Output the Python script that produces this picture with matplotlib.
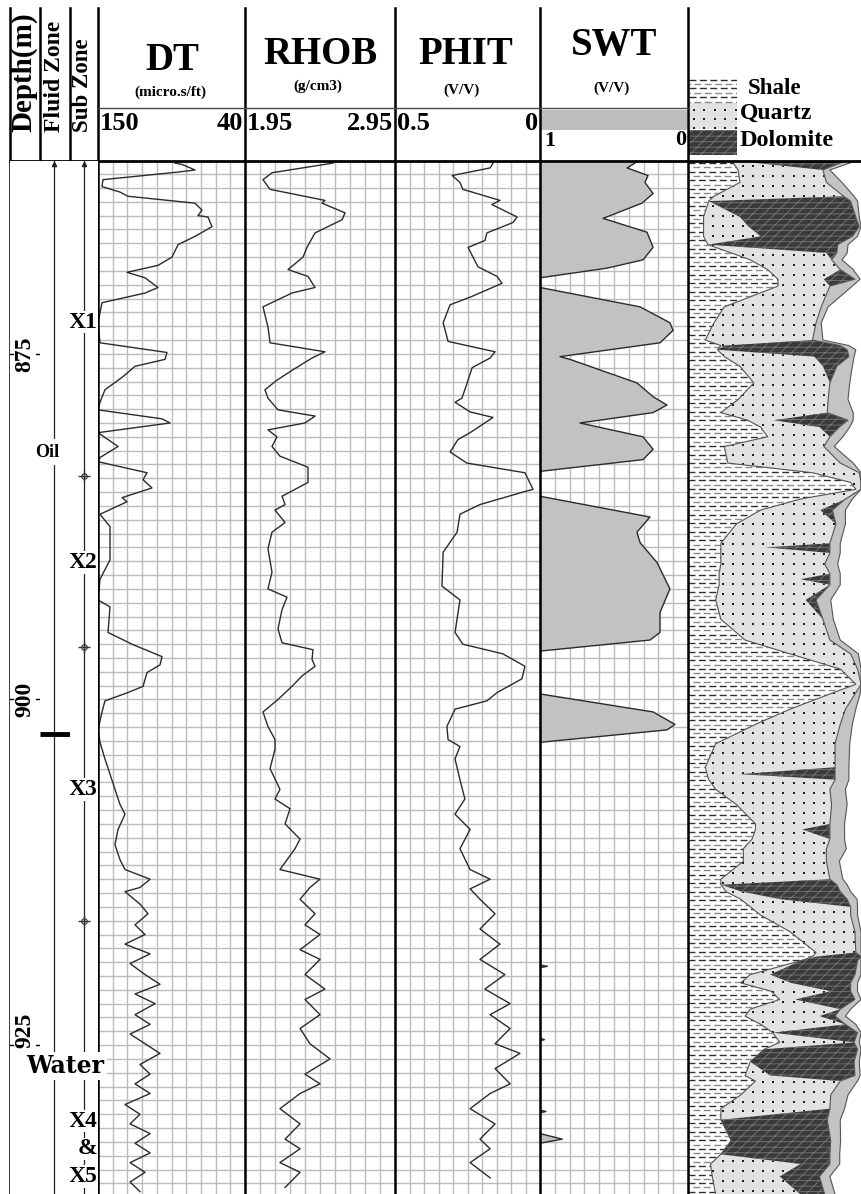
import numpy as np
import matplotlib
matplotlib.use('Agg')
import matplotlib.pyplot as plt
from matplotlib.lines import Line2D
from matplotlib.patches import Rectangle

depth_labels = [875, 900, 925]
depth_label_pos = [875, 900, 923.9]
zone_names = ['X1', 'X2', 'X3', 'X4', '&', 'X5']
zone_label_depth = [872.7, 890.1, 906.5, 930.5, 932.5, 934.5]
zone_tops = [883.8, 896.2, 916.0]
owc_depth = 902.5
oil_label_depth = 882.1
water_label_depth = 926.5

dt_depth = [861.2, 861.3, 861.7, 861.85, 862.4, 862.9, 863.3, 863.6, 864.1, 864.6,
            865.0, 865.1, 865.8, 866.5, 867.1, 868.0, 868.6, 869.1, 869.5, 870.2,
            870.6, 871.3, 872.75, 874.2, 874.9, 875.4, 875.9, 876.7, 877.6, 878.5,
            879.05, 879.7, 880.0, 880.7, 881.7, 882.5, 882.8, 883.6, 884.1, 884.7,
            885.4, 885.7, 886.6, 887.5, 889.9, 891.3, 892.8, 893.3, 895.15, 896.0,
            896.9, 897.5, 898.05, 899.05, 899.5, 900.1, 900.9, 902.2, 903.1, 904.3,
            905.4, 906.5, 907.6, 908.3, 909.4, 910.5, 911.6, 912.3, 913.0, 913.6,
            913.9, 914.8, 915.5, 916.3, 917.0, 917.7, 918.4, 919.1, 919.9, 920.6,
            921.3, 922.0, 922.8, 923.5, 924.2, 924.9, 925.6, 926.4, 927.1, 927.8,
            928.5, 929.3, 930.0, 930.7, 931.4, 932.1, 932.8, 933.5, 934.2, 934.9, 935.6]
dt = [92.4, 87.1, 77.4, 90.1, 146.3, 147.0, 133.5, 127.6, 77.4, 72.2,
      75.2, 67.7, 64.7, 77.4, 90.1, 94.6, 105.1, 128.3, 114.8, 105.1,
      114.8, 147.0, 150.0, 148.5, 98.4, 99.9, 122.3, 132.0, 144.8, 148.5,
      150.0, 102.1, 96.1, 150.0, 135.0, 148.5, 150.0, 113.3, 116.3, 109.6,
      132.0, 128.3, 148.5, 141.0, 141.0, 148.5, 150.0, 141.0, 142.5, 124.6,
      102.1, 103.6, 113.3, 116.3, 127.6, 144.8, 147.0, 150.0, 148.5, 144.8,
      141.0, 137.3, 133.5, 129.8, 135.0, 137.3, 133.5, 129.8, 111.0, 118.6,
      129.8, 118.6, 112.6, 122.3, 114.8, 129.8, 111.0, 126.0, 114.8, 103.6,
      122.3, 107.3, 122.3, 111.0, 126.0, 114.8, 103.6, 118.6, 111.0, 122.3,
      111.0, 129.8, 118.6, 126.0, 111.0, 122.3, 111.0, 126.0, 114.8, 126.0, 118.6]

rhob_depth = [861.2, 861.9, 862.4, 863.1, 863.9, 864.1, 864.8, 865.3, 866.25, 867.3,
              868.0, 868.9, 869.4, 870.2, 870.6, 871.6, 873.05, 874.2, 874.85, 875.3,
              876.2, 876.9, 877.6, 878.2, 879.05, 879.5, 880.0, 880.5, 881.0, 881.7,
              882.4, 883.2, 884.3, 885.3, 885.9, 886.3, 887.2, 887.9, 889.1, 890.8,
              892.0, 892.6, 893.5, 894.9, 895.9, 896.4, 897.1, 897.6, 898.3, 899.05,
              900.0, 900.9, 901.95, 902.9, 903.6, 905.0, 906.5, 907.2, 907.9, 909.0,
              910.1, 910.8, 912.3, 913.0, 913.6, 914.45, 915.5, 916.3, 917.0, 918.1,
              918.8, 919.9, 920.95, 921.7, 922.8, 923.8, 924.9, 926.0, 927.1, 927.8,
              928.5, 929.6, 930.7, 931.8, 932.5, 933.5, 934.2, 935.3]
rhob = [2.537, 2.13, 2.07, 2.117, 2.483, 2.463, 2.617, 2.597, 2.417, 2.363,
        2.337, 2.237, 2.37, 2.417, 2.263, 2.07, 2.103, 2.117, 2.483, 2.397,
        2.263, 2.163, 2.083, 2.103, 2.17, 2.417, 2.35, 2.103, 2.163, 2.13,
        2.183, 2.37, 2.37, 2.197, 2.217, 2.15, 2.217, 2.13, 2.103, 2.13,
        2.103, 2.23, 2.197, 2.17, 2.197, 2.403, 2.397, 2.417, 2.33, 2.263,
        2.17, 2.07, 2.103, 2.15, 2.15, 2.117, 2.183, 2.15, 2.25, 2.217,
        2.317, 2.283, 2.183, 2.45, 2.383, 2.317, 2.417, 2.35, 2.45, 2.317,
        2.45, 2.35, 2.483, 2.35, 2.45, 2.317, 2.383, 2.517, 2.35, 2.45,
        2.317, 2.183, 2.317, 2.217, 2.317, 2.183, 2.317, 2.217]

phit_depth = [861.2, 861.55, 862.1, 862.6, 863.1, 863.9, 864.2, 865.1, 865.5, 866.25,
              866.8, 867.3, 868.7, 869.4, 869.9, 870.9, 871.45, 872.75, 874.1, 874.85,
              875.3, 876.0, 876.9, 878.2, 878.5, 879.2, 879.6, 880.7, 881.2, 882.1,
              882.9, 883.6, 884.8, 885.0, 885.9, 886.6, 887.9, 889.35, 891.8, 892.8,
              895.15, 896.0, 896.7, 897.6, 898.5, 899.5, 900.1, 900.7, 901.95, 902.9,
              903.4, 904.3, 905.8, 907.2, 908.3, 909.4, 910.8, 912.3, 913.0, 913.7,
              914.45, 915.5, 916.6, 917.7, 918.8, 919.9, 920.95, 922.0, 922.8, 923.8,
              924.9, 925.6, 926.7, 927.8, 928.5, 929.6, 930.7, 931.8, 932.5, 933.5, 934.6]
phit = [0.162, 0.172, 0.303, 0.276, 0.266, 0.138, 0.166, 0.079, 0.093, 0.183,
        0.19, 0.248, 0.214, 0.148, 0.131, 0.241, 0.31, 0.334, 0.317, 0.155,
        0.172, 0.234, 0.248, 0.269, 0.293, 0.241, 0.162, 0.241, 0.283, 0.31,
        0.252, 0.052, 0.024, 0.059, 0.207, 0.276, 0.286, 0.334, 0.338, 0.276,
        0.293, 0.266, 0.128, 0.052, 0.062, 0.148, 0.183, 0.293, 0.321, 0.317,
        0.276, 0.293, 0.276, 0.259, 0.293, 0.241, 0.276, 0.241, 0.172, 0.241,
        0.207, 0.155, 0.207, 0.138, 0.207, 0.121, 0.19, 0.103, 0.172, 0.103,
        0.155, 0.069, 0.155, 0.103, 0.172, 0.241, 0.155, 0.207, 0.172, 0.241, 0.172]

swt_depth = [861.2, 861.55, 862.1, 862.6, 863.4, 864.1, 865.2, 866.2, 867.3, 868.2,
             868.8, 869.5, 870.2, 871.6, 872.75, 873.3, 874.2, 875.2, 875.4, 877.1,
             878.1, 878.7, 879.25, 880.0, 881.0, 881.9, 882.65, 883.5, 885.3, 886.8,
             887.9, 888.65, 890.1, 892.0, 893.7, 895.15, 895.7, 896.5, 899.6, 900.9,
             901.8, 902.2, 903.1, 919.2, 919.3, 919.4, 924.5, 924.6, 924.7, 929.7,
             929.8, 929.9, 931.4, 931.8, 932.1, 935.7]
swt = [0.358, 0.412, 0.27, 0.291, 0.236, 0.311, 0.574, 0.277, 0.236, 0.304,
       0.547, 1.0, 1.0, 0.324, 0.122, 0.101, 0.189, 0.865, 0.797, 0.345,
       0.236, 0.142, 0.236, 0.73, 0.304, 0.236, 0.304, 1.0, 1.0, 0.257,
       0.345, 0.324, 0.209, 0.122, 0.189, 0.189, 0.257, 1.0, 1.0, 0.236,
       0.088, 0.142, 1.0, 1.0, 0.95, 1.0, 1.0, 0.97, 1.0, 1.0,
       0.96, 1.0, 1.0, 0.85, 1.0, 1.0]

lith_depth = [861.0, 861.7, 862.6, 863.6, 863.95, 865.1, 865.8, 866.5, 867.1, 867.7,
              868.2, 868.9, 869.6, 870.1, 871.6, 872.75, 874.0, 874.4, 874.7, 875.2,
              875.9, 877.1, 878.3, 879.25, 879.8, 880.3, 881.0, 881.7, 882.9, 883.6,
              884.3, 884.8, 885.5, 886.3, 887.3, 888.7, 889.0, 889.4, 890.2, 890.9,
              891.3, 891.7, 892.8, 894.2, 895.7, 896.7, 897.8, 898.9, 899.6, 900.7,
              901.8, 903.2, 904.9, 905.4, 905.8, 906.5, 907.6, 909.0, 909.4, 910.1,
              910.8, 911.7, 913.0, 913.4, 913.9, 914.45, 915.0, 915.6, 916.8, 918.3,
              918.6, 918.9, 919.9, 920.5, 921.1, 921.7, 922.4, 922.9, 923.5, 924.1,
              924.8, 925.3, 926.2, 927.2, 927.6, 928.6, 929.6, 930.4, 931.9, 932.9,
              933.6, 934.5, 935.8]
v_shale = [.25, .29, .30, .15, .12, .09, .09, .09, .115, .25,
           .36, .46, .52, .52, .21, .15, .10, .19, .17, .21,
           .30, .38, .29, .19, .345, .42, .46, .21, .23, .72,
           .94, .97, .65, .42, .28, .19, .19, .19, .19, .18,
           .18, .18, .16, .19, .33, .59, .88, .97, .82, .59,
           .39, .16, .10, .11, .12, .16, .28, .39, .39, .37,
           .32, .32, .19, .19, .22, .305, .36, .42, .59, .74,
           .72, .65, .36, .305, .48, .53, .36, .33, .42, .49,
           .53, .44, .36, .33, .39, .305, .19, .19, .25, .19,
           .13, .14, .16]
v_quartz = [0, .49, .50, .75, 0, .21, .26, .33, 0, .55,
            .47, .42, .265, .30, .56, .59, .62, .02, 0, .52,
            .48, .44, .52, .615, .15, .34, .36, .575, .65, .27,
            .06, .03, .26, .345, .575, .63, .26, .63, .60, .64,
            .47, .64, .52, .59, .49, .35, .10, .03, .145, .32,
            .49, .69, .75, .19, .73, .66, .55, .43, .27, .45,
            .48, .48, .63, 0, .09, .23, .58, .52, .375, .23,
            .02, 0, .115, .29, .345, .09, .52, .43, .49, 0,
            .43, 0, 0, .145, .49, .52, .63, 0, 0, 0,
            .52, .39, .49]
v_dolomite = [.67, 0, 0, 0, .82, .67, .64, .53, .75, .06,
              0, 0, .18, 0, 0, 0, 0, .67, .75, .20,
              .08, 0, 0, 0, .43, .115, 0, 0, 0, 0,
              0, 0, 0, .07, 0, 0, .37, 0, 0, 0,
              .17, 0, .06, 0, 0, 0, 0, 0, 0, 0,
              0, 0, 0, .55, 0, 0, 0, 0, .16, 0,
              0, 0, 0, .67, .57, .385, 0, 0, 0, 0,
              .26, .33, .49, .345, .115, .345, 0, .09, 0, .49,
              0, .54, .60, .49, 0, 0, 0, .615, .575, .63,
              .17, .23, .14]
v_pore = [.06, .04, .09, .06, .04, .02, .02, .03, .06, .06,
          .06, .075, .03, .13, .04, .03, .06, .05, .05, .03,
          .09, .115, .115, .15, .03, .06, .075, .06, .075, .01,
          0, 0, .04, .075, .055, .06, .06, .06, .075, .06,
          .06, .06, .085, .06, .06, .045, .02, 0, .03, .06,
          .07, .085, .08, .08, .08, .09, .09, .085, .085, .085,
          .115, .075, .075, .06, .06, .057, .04, .04, .035, .03,
          0, .02, .035, .04, .04, .035, .06, .06, .06, .02,
          .03, .02, .03, .03, .10, .10, .085, .075, .057, .057,
          .057, .06, .06]

# ---------------- layout (pixels of the 861x1194 picture) ----------------
W, H = 861, 1194
TOP, BASE = 861.05, 935.77
HEAD_TOP, DATA_TOP = 8, 161

plt.rcParams['font.family'] = ['Liberation Serif', 'DejaVu Serif']
plt.rcParams['font.weight'] = 'bold'
plt.rcParams['hatch.linewidth'] = 0.6

fig = plt.figure(figsize=(W / 100, H / 100), dpi=100)
fig.patch.set_facecolor('white')


def ftext(x, y, s, **kw):
    return fig.text(x / W, 1 - y / H, s, **kw)


def fline(x0, x1, y0, y1, **kw):
    fig.add_artist(Line2D([x0 / W, x1 / W], [1 - y0 / H, 1 - y1 / H], **kw))


def track_ax(x0, x1):
    ax = fig.add_axes([x0 / W, 0, (x1 - x0) / W, (H - DATA_TOP) / H])
    ax.set_ylim(BASE, TOP)
    for s in ax.spines.values():
        s.set_visible(False)
    ax.tick_params(left=False, bottom=False, labelleft=False, labelbottom=False)
    return ax


def curve_track(x0, x1, lo, hi):
    ax = track_ax(x0, x1)
    ax.set_xlim(lo, hi)
    ax.set_xticks(np.linspace(lo, hi, 11))
    ax.set_yticks(np.arange(862, 936))
    ax.grid(True, color='#bcbcbc', lw=1.0)
    ax.set_axisbelow(True)
    return ax


CURVE = dict(color='#2b2b2b', lw=1.0)

ax_dt = curve_track(98, 245, 150, 40)
ax_dt.plot(dt, dt_depth, **CURVE)

ax_rhob = curve_track(245, 395, 1.95, 2.95)
ax_rhob.plot(rhob, rhob_depth, **CURVE)

ax_phit = curve_track(395, 540, 0.5, 0)
ax_phit.plot(phit, phit_depth, **CURVE)

ax_swt = curve_track(540, 688, 1, 0)
ax_swt.fill_betweenx(swt_depth, 1, swt, facecolor='#c2c2c2', lw=0)
ax_swt.plot(swt, swt_depth, **CURVE)

# ---------------- lithology track ----------------
ax_l = track_ax(688, 861)
ax_l.set_xlim(0, 1)
b1 = np.array(v_shale)
b2 = b1 + np.array(v_quartz)
b3 = b2 + np.array(v_dolomite)
b4 = np.minimum(b3 + np.array(v_pore), 1)
b3 = np.minimum(b3, 1)

sh = ax_l.fill_betweenx(lith_depth, 0, b1, facecolor='white', lw=0)
qz = ax_l.fill_betweenx(lith_depth, b1, b2, facecolor='#e2e2e2', lw=0)
ax_l.fill_betweenx(lith_depth, b2, b3, facecolor='#3a3a3a', hatch='---///',
                   edgecolor='#767676', lw=0)
ax_l.fill_betweenx(lith_depth, b3, b4, facecolor='#c4c4c4', lw=0)

rows = np.arange(TOP + 0.15, BASE, 0.31)
for k, col in enumerate(['#2e2e2e', '#8a8a8a']):
    hl = ax_l.hlines(rows[k::2], 0, 1, colors=col, lw=1.0,
                     linestyles=(k * 4, (5, 2.5)))
    hl.set_clip_path(sh.get_paths()[0], ax_l.transData)

gx, gy = np.meshgrid(np.arange(0.03, 1, 0.058), np.arange(TOP + 0.35, BASE, 0.72))
dots = ax_l.scatter(gx.ravel(), gy.ravel(), s=2.2, c='#1e1e1e', marker='s', lw=0)
dots.set_clip_path(qz.get_paths()[0], ax_l.transData)

for b in (b1, b3, b4):
    ax_l.plot(b, lith_depth, color='#555555', lw=0.8)

# ---------------- depth / fluid / sub-zone columns ----------------
ax_d = track_ax(10, 40)
ax_d.set_xlim(0, 1)
for d, pos in zip(depth_labels, depth_label_pos):
    ax_d.text(0.5, pos, str(d), rotation=90, ha='center', va='center', fontsize=17)
    ax_d.plot([0, 0.1], [d, d], color='k', lw=1)
    ax_d.plot([0.85, 1], [d, d], color='k', lw=1)

ax_f = track_ax(40, 70)
ax_f.set_xlim(0, 1)
ax_f.plot([0.47, 0.47], [TOP, BASE], color='#222', lw=0.9)
ax_f.plot([0, 1], [owc_depth, owc_depth], color='k', lw=3.5, solid_capstyle='butt')
ax_f.plot([0.47], [TOP + 0.2], marker='^', ms=3, color='#222')

ax_s = track_ax(70, 98)
ax_s.set_xlim(0, 1)
ax_s.plot([0.5, 0.5], [TOP, BASE], color='#222', lw=0.9)
ax_s.plot([0.5], [TOP + 0.2], marker='^', ms=3, color='#222')
ax_s.plot([0.5] * len(zone_tops), zone_tops, ls='none', marker='+',
          ms=9, mew=1.0, color='#333')
ax_s.plot([0.5] * len(zone_tops), zone_tops, ls='none', marker='o',
          ms=4, mfc='none', mew=0.8, color='#333')
for name, d in zip(zone_names, zone_label_depth):
    ax_s.text(0.98, d, name, ha='right', va='center', fontsize=17,
              bbox=dict(facecolor='white', edgecolor='none', pad=0.5))

ax_f.text(0.25, oil_label_depth, 'Oil', ha='center', va='center', fontsize=13,
          clip_on=False, bbox=dict(facecolor='white', edgecolor='none', pad=3))
ax_f.text(0.85, water_label_depth, 'Water', ha='center', va='center',
          fontsize=17, family='DejaVu Serif', clip_on=False, zorder=10,
          bbox=dict(facecolor='white', edgecolor='none', pad=1.5))
for a in (ax_d, ax_f, ax_s):
    a.set_zorder(3)
ax_f.set_zorder(4)

# ---------------- borders ----------------
for x in [10, 40, 70, 98, 245, 395, 540, 688]:
    fline(x, x, HEAD_TOP, H, color='k', lw=1.8)
fline(10, 861, DATA_TOP, DATA_TOP, color='k', lw=2.0)
fline(98, 688, 108, 108, color='#4a4a4a', lw=1.0)

# ---------------- header ----------------
ftext(24, 132, 'Depth(m)', rotation=90, ha='center', va='bottom', fontsize=21)
ftext(54, 132, 'Fluid Zone', rotation=90, ha='center', va='bottom', fontsize=17)
ftext(83, 132, 'Sub Zone', rotation=90, ha='center', va='bottom', fontsize=16.5)

titles = [('DT', '(micro.s/ft)', 172, 170), ('RHOB', '(g/cm3)', 320, 318),
          ('PHIT', '(V/V)', 466, 462), ('SWT', '(V/V)', 614, 612)]
for (t, u, xt, xu), yt, yu in zip(titles, [60, 55, 55, 46], [92, 86, 90, 88]):
    ftext(xt, yt, t, ha='center', va='center', fontsize=28)
    ftext(xu, yu, u, ha='center', va='center', fontsize=11)

scales = [('150', '40', 98, 245), ('1.95', '2.95', 245, 395), ('0.5', '0', 395, 540)]
for lo, hi, x0, x1 in scales:
    ftext(x0 + 2, 123, lo, ha='left', va='center', fontsize=19)
    ftext(x1 - 2, 123, hi, ha='right', va='center', fontsize=19)
fig.add_artist(Rectangle((541 / W, 1 - 130 / H), 146 / W, 20 / H,
                         transform=fig.transFigure, facecolor='#bdbdbd', lw=0))
ftext(544, 141, '1', ha='left', va='center', fontsize=16)
ftext(686, 140, '0', ha='right', va='center', fontsize=16)

# lithology legend
leg = fig.add_axes([689 / W, 1 - 155 / H, 48 / W, 78 / H])
leg.set_xlim(0, 1)
leg.set_ylim(3, 0)
leg.axis('off')
for k, col in enumerate(['#2e2e2e', '#8a8a8a']):
    leg.hlines(np.arange(0.1, 1, 0.17)[k::2], 0, 1, colors=col, lw=1.0,
               linestyles=(k * 4, (5, 2.5)))
leg.add_patch(Rectangle((0, 1), 1, 1, facecolor='#e2e2e2', lw=0))
lx, ly = np.meshgrid(np.arange(0.1, 1, 0.22), np.arange(1.25, 2, 0.35))
leg.scatter(lx.ravel(), ly.ravel(), s=2.2, c='#1e1e1e', marker='s', lw=0)
leg.add_patch(Rectangle((0, 2.05), 1, 0.95, facecolor='#3a3a3a', hatch='---///',
                        edgecolor='#767676', lw=0))
ftext(748, 88, 'Shale', ha='left', va='center', fontsize=16.5)
ftext(740, 113, 'Quartz', ha='left', va='center', fontsize=17)
ftext(740, 141, 'Dolomite', ha='left', va='center', fontsize=17.5)

fig.savefig('out.png', dpi=100)
